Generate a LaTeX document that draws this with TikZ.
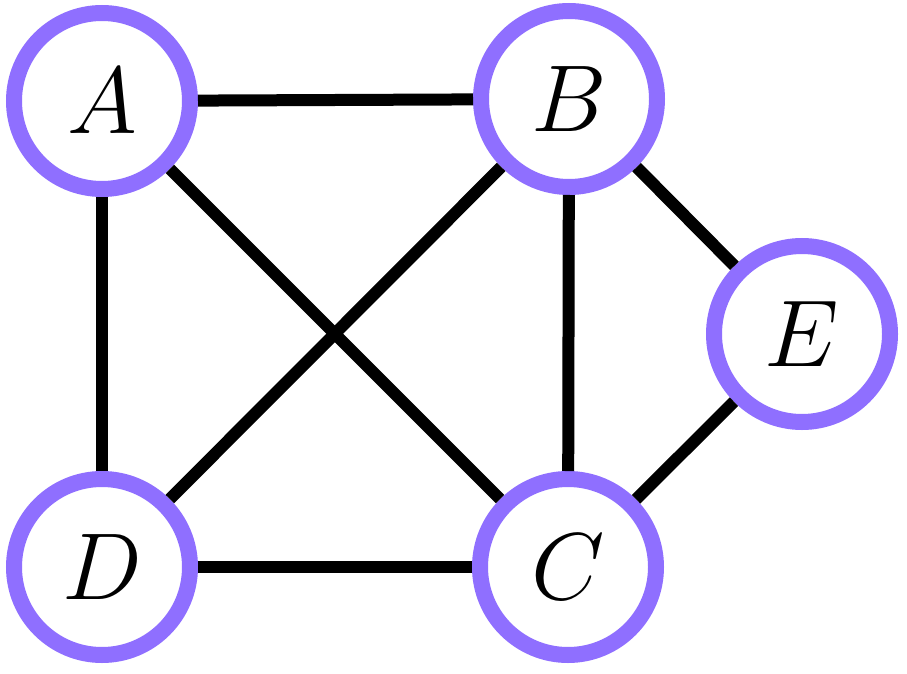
\documentclass[tikz,border=0pt]{standalone}
\usepackage{fix-cm}
\DeclareMathSizes{95}{95}{70}{50}
\definecolor{ringpurple}{RGB}{143,111,255}
\begin{document}
\begin{tikzpicture}[x=1pt,y=-1pt,
  vertex/.style={circle,draw=ringpurple,line width=16pt,fill=white,minimum size=176pt,inner sep=0pt,font=\fontsize{95}{100}\selectfont},
  edge/.style={line width=12pt,black}]
\useasboundingbox (0,0) rectangle (907,674);
\node[vertex] (A) at (102,101) {$A$};
\node[vertex] (B) at (569,99) {$B$};
\node[vertex] (C) at (568,567) {$C$};
\node[vertex] (D) at (102,567) {$D$};
\node[vertex] (E) at (802,334) {$E$};
\draw[edge] (A) -- (B);
\draw[edge] (A) -- (D);
\draw[edge] (A) -- (C);
\draw[edge] (B) -- (D);
\draw[edge] (B) -- (C);
\draw[edge] (B) -- (E);
\draw[edge] (D) -- (C);
\draw[edge] (C) -- (E);
\end{tikzpicture}
\end{document}
